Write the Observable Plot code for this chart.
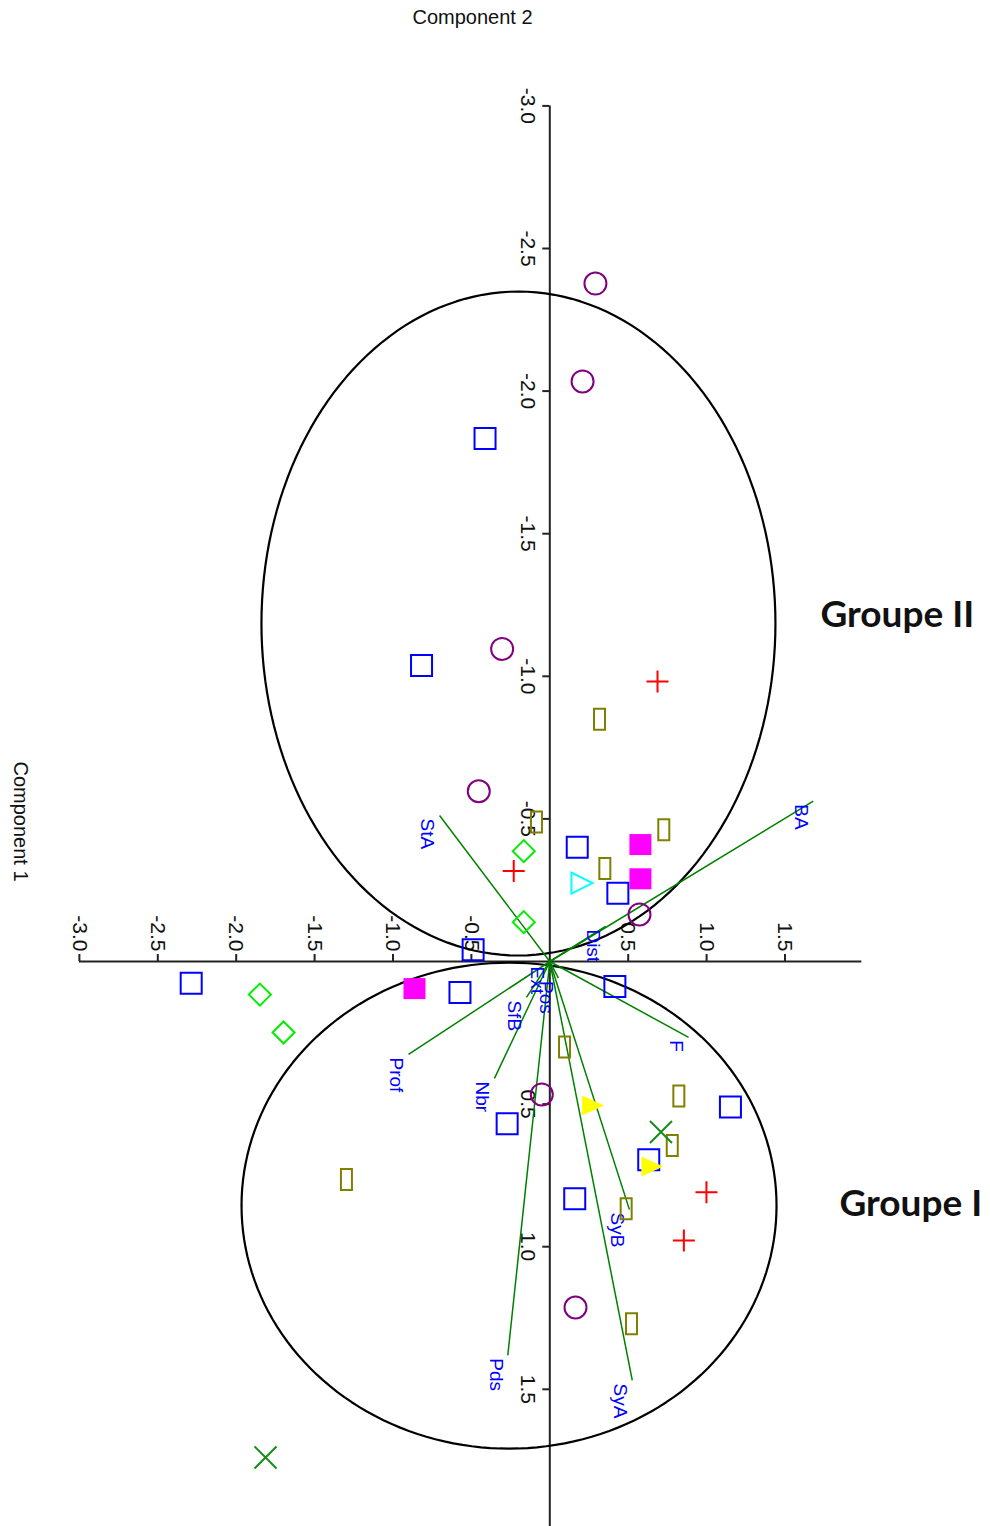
<!DOCTYPE html>
<html><head><meta charset="utf-8">
<script src="https://cdn.jsdelivr.net/npm/d3@7"></script>
<script src="https://cdn.jsdelivr.net/npm/@observablehq/plot@0.6"></script>
<style>html,body{margin:0;padding:0;background:#fff;overflow:hidden}</style>
</head><body><div id="chart"></div>
<script>
// ---------- DATA (Component 1 = x, Component 2 = y) ----------
const xTickValues = [-3.0, -2.5, -2.0, -1.5, -1.0, -0.5, 0.5, 1.0, 1.5];
const xTickLabels = ["-3.0", "-2.5", "-2.0", "-1.5", "-1.0", "-0.5", "0.5", "1.0", "1.5"];
const yTickValues = [-3.0, -2.5, -2.0, -1.5, -1.0, -0.5, 0.5, 1.0, 1.5];
const yTickLabels = ["-3.0", "-2.5", "-2.0", "-1.5", "-1.0", "-0.5", "0.5", "1.0", "1.5"];

const blueSquares = [[-0.413,-1.834],[-0.818,-1.038],[0.175,-0.401],[0.434,-0.239],[-0.489,-0.041],
  [-2.287,0.076],[-0.573,0.109],[0.415,0.088],[1.152,0.510],[-0.272,0.569],[0.631,0.695],[0.159,0.832]];
const purpleCircles = [[0.291,-2.377],[0.209,-2.034],[-0.304,-1.096],[-0.453,-0.597],[0.572,-0.165],
  [-0.051,0.466],[0.164,1.213]];
const oliveRects = [[0.317,-0.849],[-0.085,-0.489],[0.727,-0.462],[0.351,-0.326],[0.094,0.300],
  [0.823,0.472],[0.781,0.645],[-1.297,0.764],[0.487,0.867],[0.521,1.270]];
const magentaSquares = [[0.578,-0.410],[0.578,-0.290],[-0.863,0.095]];
const greenDiamonds = [[-0.166,-0.387],[-0.166,-0.138],[-1.849,0.116],[-1.698,0.249]];
const redPlus = [[0.687,-0.982],[-0.230,-0.317],[0.999,0.809],[0.855,0.978]];
const cyanTriangles = [[0.205,-0.275]];
const yellowTriangles = [[0.276,0.505],[0.654,0.719]];
const greenCrosses = [[0.709,0.598],[-1.813,1.739]];

const varNames = ["BA","StA","Dist","F","Prof","Nbr","SfB","Ext","Pos","Pds","SyB","SyA"];
const varX = [1.680,-0.703,0.355,0.885,-0.901,-0.353,-0.149,-0.002,0.055,-0.268,0.508,0.526];
const varY = [-0.562,-0.512,-0.123,0.266,0.326,0.410,0.126,0.007,0.058,1.381,0.870,1.469];

const groupNames = ["Groupe II","Groupe I"];
const ellipseCX = [-0.200, -0.260];
const ellipseCY = [-1.185, 0.856];
const ellipseRX = [1.639, 1.706];
const ellipseRY = [1.164, 0.852];

// ---------- LAYOUT ----------
const W = 990, H = 1526;
const KX = 156.8, KY = 285.2;         // px per unit
const OX = 549.3, OY = 961;           // origin in px
const X0 = -OX / KX, X1 = X0 + W / KX;
const Y0 = -OY / KY, Y1 = Y0 + H / KY;
const FONT = "'Liberation Sans', Arial, sans-serif";

const vectors = varNames.map((n, i) => ({name: n, x: varX[i], y: varY[i]}));
const ellipsePts = [];
ellipseCX.forEach((cx, k) => {
  for (let a = 0; a < 360; a += 2) {
    const t = a * Math.PI / 180;
    ellipsePts.push({id: k, x: cx + ellipseRX[k] * Math.cos(t), y: ellipseCY[k] + ellipseRY[k] * Math.sin(t)});
  }
});

// custom symbols (pixel shapes)
const symRect = (w, h) => ({draw(c) { c.rect(-w/2, -h/2, w, h); }});
const symCircle = (r) => ({draw(c) { c.moveTo(r, 0); c.arc(0, 0, r, 0, 2 * Math.PI); c.closePath(); }});
const symDiamond = (r) => ({draw(c) { c.moveTo(0,-r); c.lineTo(r,0); c.lineTo(0,r); c.lineTo(-r,0); c.closePath(); }});
const symPlus = (r) => ({draw(c) { c.moveTo(-r,0); c.lineTo(r,0); c.moveTo(0,-r); c.lineTo(0,r); }});
const symTimes = (r) => ({draw(c) { c.moveTo(-r,-r); c.lineTo(r,r); c.moveTo(-r,r); c.lineTo(r,-r); }});
const symTriRight = (w, h) => ({draw(c) { c.moveTo(-w/2,-h/2); c.lineTo(-w/2,h/2); c.lineTo(w/2,0); c.closePath(); }});

const pt = {x: d => d[0], y: d => d[1]};
const TL = 7; // tick length px

const chart = Plot.plot({
  width: W, height: H,
  marginTop: 0, marginRight: 0, marginBottom: 0, marginLeft: 0,
  style: {background: "white", fontFamily: FONT},
  x: {domain: [X0, X1], axis: null},
  y: {domain: [Y0, Y1], reverse: true, axis: null},
  marks: [
    // axes
    Plot.ruleY([0], {x1: -3.0, x2: 1.99, stroke: "#222", strokeWidth: 2}),
    Plot.ruleX([0], {y1: -3.0, y2: 2.0, stroke: "#222", strokeWidth: 2}),
    Plot.ruleX(xTickValues, {x: d => d, y1: 0, y2: -TL / KY, stroke: "#222", strokeWidth: 2}),
    Plot.ruleY(yTickValues, {y: d => d, x1: 0, x2: -TL / KX, stroke: "#222", strokeWidth: 2}),
    Plot.text(xTickValues, {x: d => d, y: () => 0, text: (d, i) => xTickLabels[i], rotate: 90,
      textAnchor: "end", lineAnchor: "middle", dy: -10, fontSize: 21, fill: "#111"}),
    Plot.text(yTickValues, {x: () => 0, y: d => d, text: (d, i) => yTickLabels[i], rotate: 90,
      textAnchor: "middle", lineAnchor: "middle", dx: -22, fontSize: 21, fill: "#111"}),
    // group ellipses
    Plot.line(ellipsePts, {x: "x", y: "y", z: "id", stroke: "black", strokeWidth: 2.2, curve: "linear-closed"}),
    // loading vectors
    Plot.link(vectors, {x1: () => 0, y1: () => 0, x2: "x", y2: "y", stroke: "#008000", strokeWidth: 1.5}),
    Plot.text(vectors, {x: "x", y: "y", text: "name", rotate: 90, textAnchor: "start", lineAnchor: "middle",
      dx: -12, dy: 3, fontSize: 19, fill: "#0000ff"}),
    // observations
    Plot.dot(oliveRects, {...pt, symbol: symRect(11, 21), fill: "none", stroke: "#808000", strokeWidth: 2}),
    Plot.dot(blueSquares, {...pt, symbol: symRect(21, 21), fill: "none", stroke: "#0000ff", strokeWidth: 2}),
    Plot.dot(purpleCircles, {...pt, symbol: symCircle(11), fill: "none", stroke: "#800080", strokeWidth: 2}),
    Plot.dot(magentaSquares, {...pt, symbol: symRect(22, 21), fill: "#ff00ff", stroke: "none"}),
    Plot.dot(greenDiamonds, {...pt, symbol: symDiamond(11), fill: "none", stroke: "#00ee00", strokeWidth: 2}),
    Plot.dot(redPlus, {...pt, symbol: symPlus(11), fill: "none", stroke: "#ff0000", strokeWidth: 2}),
    Plot.dot(cyanTriangles, {...pt, symbol: symTriRight(21, 21), fill: "none", stroke: "#00ffff", strokeWidth: 2}),
    Plot.dot(yellowTriangles, {...pt, symbol: symTriRight(22, 20), fill: "#ffff00", stroke: "none"}),
    Plot.dot(greenCrosses, {...pt, symbol: symTimes(11), fill: "none", stroke: "#1a8a1a", strokeWidth: 2}),
    // titles
    Plot.text(["Component 2"], {text: d => d, frameAnchor: "top-left", dx: 472, dy: 17,
      textAnchor: "middle", lineAnchor: "middle", fontSize: 20, fill: "#111"}),
    Plot.text(["Component 1"], {text: d => d, frameAnchor: "top-left", dx: 20, dy: 821, rotate: 90,
      textAnchor: "middle", lineAnchor: "middle", fontSize: 20, fill: "#111"}),
    Plot.text([groupNames[0]], {text: d => d, frameAnchor: "top-left", dx: 820, dy: 615,
      textAnchor: "start", lineAnchor: "middle", fontSize: 37, fontWeight: "bold", fontFamily: "Lato, sans-serif", fill: "#111"}),
    Plot.text([groupNames[1]], {text: d => d, frameAnchor: "top-left", dx: 839, dy: 1204,
      textAnchor: "start", lineAnchor: "middle", fontSize: 37, fontWeight: "bold", fontFamily: "Lato, sans-serif", fill: "#111"})
  ]
});
document.getElementById("chart").appendChild(chart);
</script>
</body></html>
